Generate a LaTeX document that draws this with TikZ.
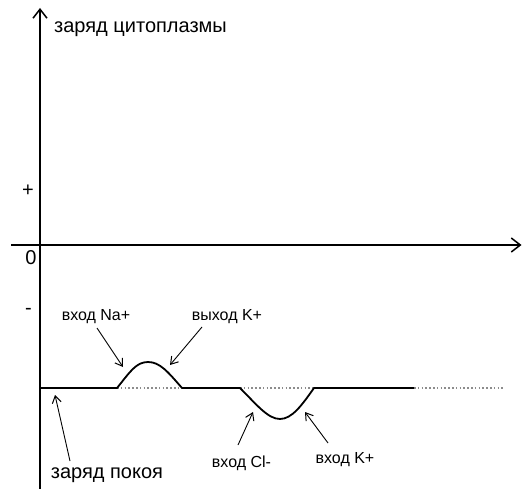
\documentclass[tikz,border=0pt]{standalone}
\usepackage{fontspec}
\setmainfont{Liberation Sans}
\usetikzlibrary{arrows.meta}
\begin{document}
\begin{tikzpicture}[x=1pt,y=-1pt,
  axis/.style={line width=1.8pt,-{Straight Barb[length=9pt,width=14pt,line width=1.5pt]}},
  curve/.style={line width=1.8pt,line join=round},
  ptr/.style={line width=0.9pt,-{Straight Barb[length=7pt,width=9pt,line width=1pt]}},
  lbl/.style={font=\fontsize{16}{18}\selectfont,inner sep=0pt,anchor=base},
  big/.style={font=\fontsize{20}{22}\selectfont,inner sep=0pt},
  base/.style={gray!90,line width=1.5pt,dash pattern=on 1.6pt off 2.2pt}]
\useasboundingbox (0,0) rectangle (522,489);
% axes
\coordinate (ybot) at (40,489);
\coordinate (ytop) at (40,8);
\coordinate (xl) at (11,245);
\coordinate (xr) at (521.5,245);
\draw[axis] (ybot) -- (ytop);
\draw[axis] (xl) -- (xr);
\node[big,anchor=base west] (ttl) at (54,33) {заряд цитоплазмы};
\node[big] (plus) at (28,191) {+};
\node[big,anchor=base] (zero) at (31,265) {0};
\node[big] (minus) at (28.5,311) {-};
% baseline dotted
\coordinate (b1) at (117,388);
\coordinate (b2) at (182,388);
\coordinate (b3) at (240,388);
\coordinate (b4) at (314,388);
\coordinate (b5) at (414,388);
\coordinate (b6) at (503,388);
\draw[base] (b1) -- (b2);
\draw[base] (b3) -- (b4);
\draw[base] (b5) -- (b6);
% curve
\coordinate (c0) at (40,388);
\draw[curve] (c0) -- (b1)
  .. controls (130,372) and (136,362) .. (148,362)
  .. controls (160,362) and (168,372) .. (b2)
  -- (b3)
  .. controls (257,405) and (268,419) .. (280,419)
  .. controls (292,419) and (302,405) .. (b4)
  -- (b5);
% labels
\node[lbl] (na) at (96,320) {вход Na+};
\node[lbl] (kout) at (227,320) {выход K+};
\node[big,anchor=base] (rest) at (107,478) {заряд покоя};
\node[lbl] (cl) at (241.5,467) {вход Cl-};
\node[lbl] (kin) at (345,463) {вход K+};
% pointer targets
\coordinate (tna) at (123,367);
\coordinate (tkout) at (170,365);
\coordinate (trest) at (55,395);
\coordinate (tcl) at (253,412);
\coordinate (tkin) at (305,412);
\draw[ptr] (97,328) -- (tna);
\draw[ptr] (202,327) -- (tkout);
\draw[ptr] (70,461) -- (trest);
\draw[ptr] (238,445) -- (tcl);
\draw[ptr] (328,443) -- (tkin);
\end{tikzpicture}
\end{document}
